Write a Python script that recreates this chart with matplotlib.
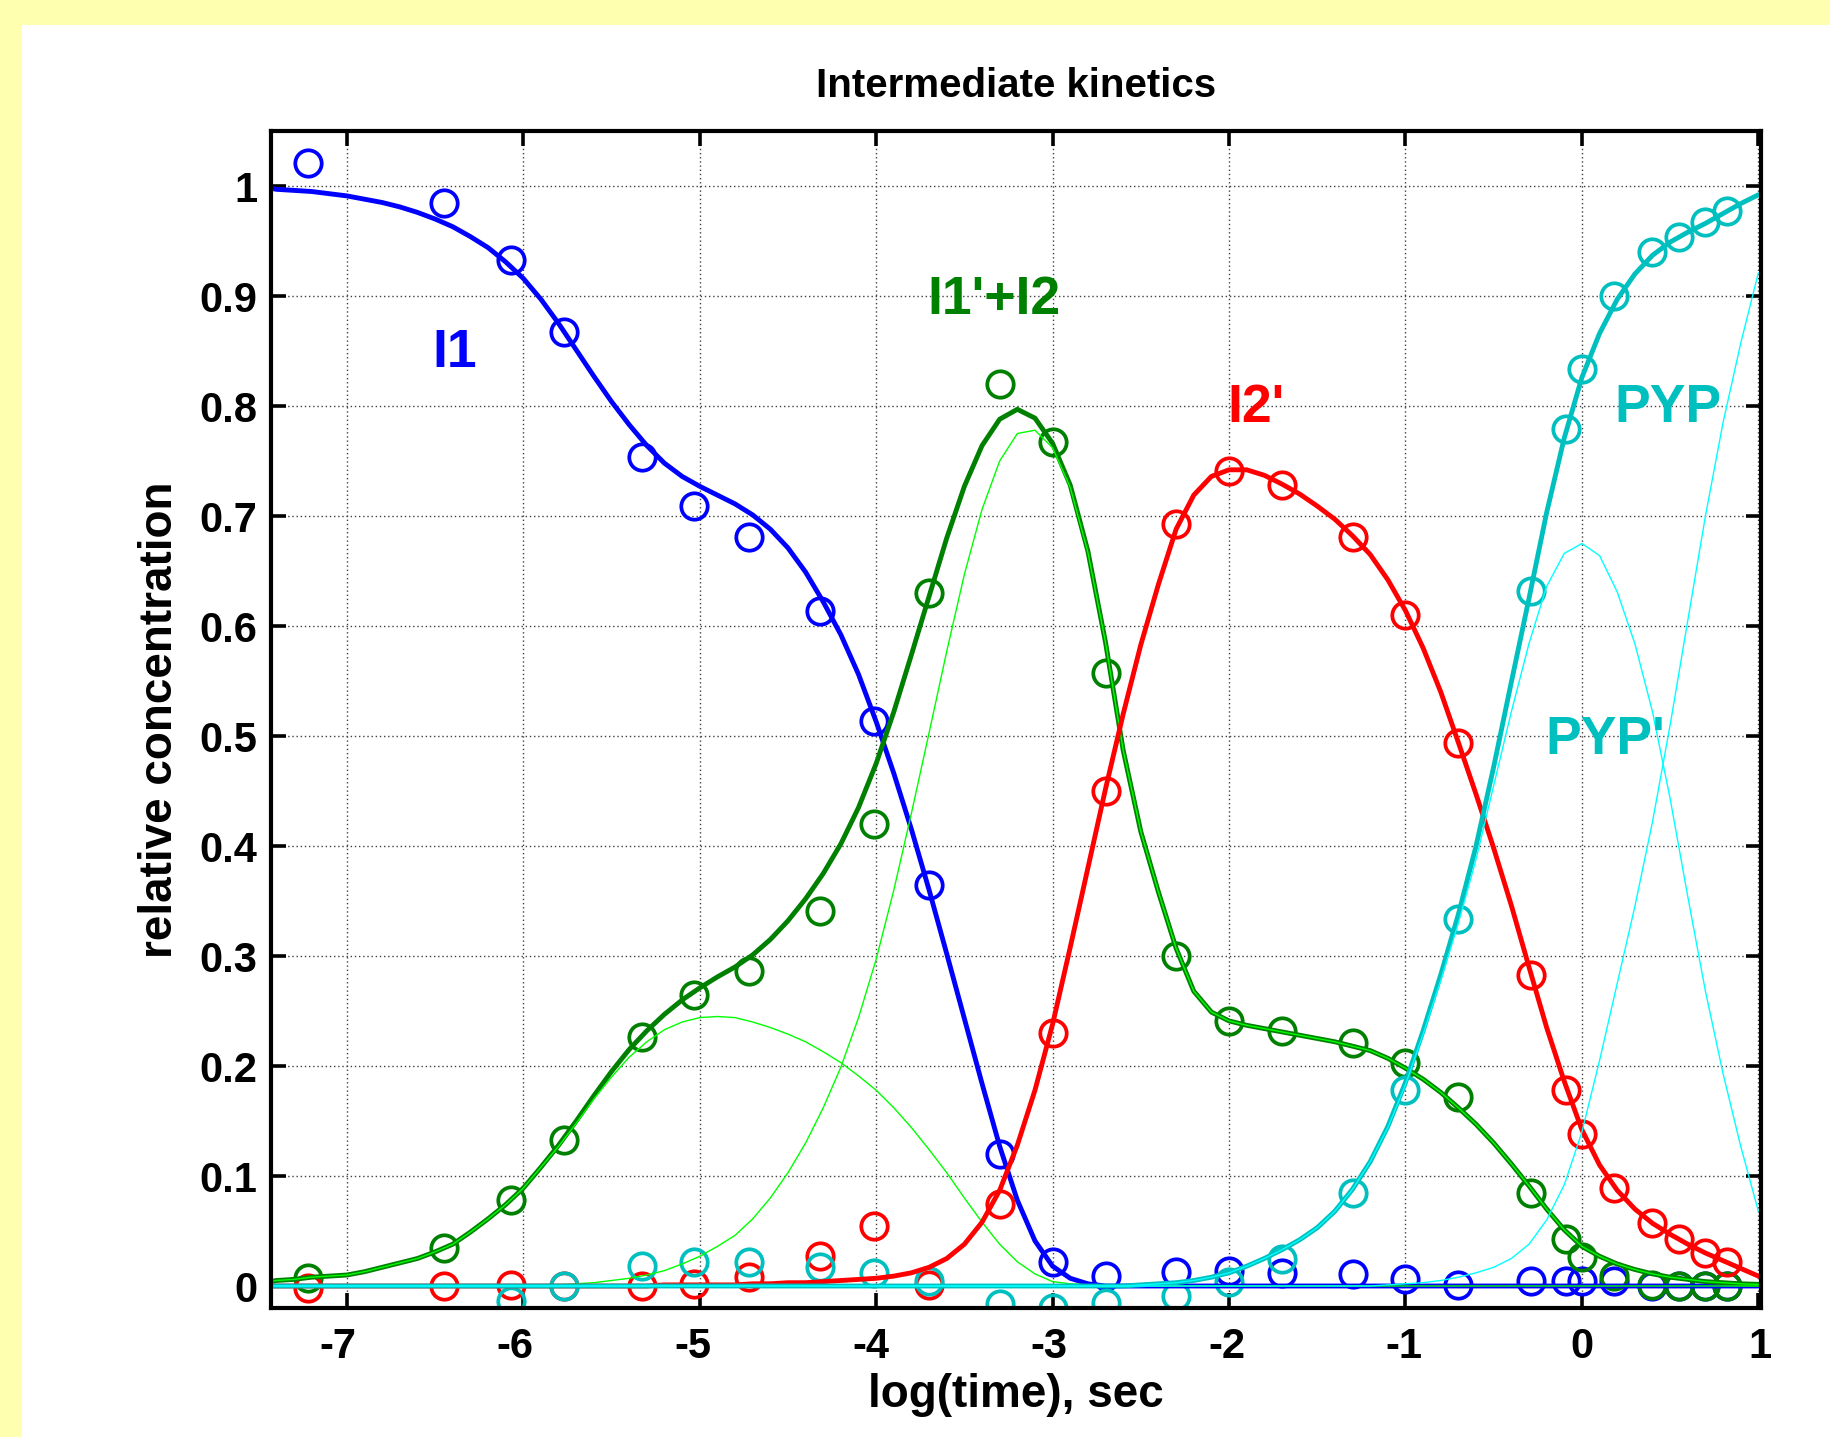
import numpy as np
import matplotlib
matplotlib.use("Agg")
import matplotlib.pyplot as plt
from matplotlib.patches import Rectangle
from matplotlib.transforms import ScaledTranslation

plt.rcParams["font.family"] = ["Liberation Sans", "DejaVu Sans"]
plt.rcParams["font.weight"] = "bold"

# ---------------- measured points (log10 time in s) ----------------
t_obs = [-7.22, -6.45, -6.07, -5.77, -5.33, -5.03, -4.72, -4.32, -4.01, -3.70,
         -3.30, -3.00, -2.70, -2.30, -2.00, -1.70, -1.30, -1.00, -0.70, -0.29,
         -0.09, 0.00, 0.18, 0.40, 0.55, 0.70, 0.82]

i1_obs = [1.021, 0.985, 0.933, 0.867, 0.754, 0.709, 0.681, 0.614, 0.514, 0.365,
          0.120, 0.022, 0.009, 0.013, 0.014, 0.012, 0.011, 0.006, 0.001, 0.005,
          0.005, 0.005, 0.005, 0.0, 0.0, 0.0, 0.0]

i1p_i2_obs = [0.007, 0.035, 0.078, 0.133, 0.226, 0.265, 0.286, 0.341, 0.420, 0.630,
              0.820, 0.767, 0.557, 0.300, 0.241, 0.232, 0.221, 0.203, 0.172, 0.085,
              0.043, 0.026, 0.009, 0.001, 0.0, 0.0, 0.0]

i2p_obs = [-0.002, 0.0, 0.001, 0.0, 0.0, 0.002, 0.008, 0.027, 0.055, 0.001,
           0.075, 0.230, 0.450, 0.693, 0.741, 0.728, 0.681, 0.610, 0.494, 0.283,
           0.178, 0.138, 0.089, 0.057, 0.043, 0.030, 0.022]

pyp_obs = [np.nan, np.nan, -0.014, 0.0, 0.018, 0.022, 0.022, 0.017, 0.012, 0.005,
           -0.016, -0.020, -0.015, -0.009, 0.004, 0.025, 0.085, 0.178, 0.334, 0.632,
           0.779, 0.834, 0.900, 0.940, 0.954, 0.967, 0.977]

# ---------------- fitted curves, sampled every 0.1 in log(time) ----------------
t_fit = [-7.43] + [round(-7.4 + 0.1 * k, 1) for k in range(85)]

Z10 = [0.0] * 10

i1_fit = ([0.998,
           0.997, 0.996, 0.995, 0.993, 0.991,
           0.988, 0.985, 0.981, 0.976, 0.970, 0.963, 0.954, 0.944, 0.931, 0.916,
           0.897, 0.875, 0.851, 0.827, 0.804, 0.783, 0.764, 0.748, 0.736, 0.727,
           0.719, 0.711, 0.701, 0.688, 0.671, 0.649, 0.622, 0.592, 0.556, 0.513,
           0.466, 0.415, 0.360, 0.302, 0.243, 0.184, 0.127, 0.078, 0.041, 0.018,
           0.007, 0.002, 0.0, 0.0, 0.0, 0.0, 0.0, 0.0, 0.0, 0.0]
          + Z10 + Z10 + Z10)

i1p_i2_fit = [0.004,
              0.005, 0.006, 0.008, 0.009, 0.010,
              0.013, 0.017, 0.021, 0.025, 0.031, 0.038, 0.049, 0.061, 0.074, 0.089,
              0.108, 0.128, 0.150, 0.173, 0.195, 0.215, 0.232, 0.247, 0.260, 0.271,
              0.281, 0.290, 0.301, 0.315, 0.332, 0.352, 0.375, 0.402, 0.435, 0.475,
              0.522, 0.574, 0.627, 0.680, 0.727, 0.764, 0.788, 0.797, 0.789, 0.766,
              0.728, 0.668, 0.585, 0.487, 0.413, 0.358, 0.307, 0.268, 0.249, 0.241,
              0.237, 0.234, 0.231, 0.228, 0.225, 0.222, 0.218, 0.214, 0.207, 0.198,
              0.188, 0.176, 0.162, 0.147, 0.130, 0.111, 0.091, 0.070, 0.051, 0.036,
              0.027, 0.020, 0.015, 0.011, 0.008, 0.006, 0.004, 0.003, 0.002, 0.0015]

i1p_part = ([0.004,
             0.005, 0.006, 0.008, 0.009, 0.010,
             0.013, 0.017, 0.021, 0.025, 0.031, 0.038, 0.049, 0.061, 0.074, 0.089,
             0.108, 0.127, 0.148, 0.170, 0.190, 0.208, 0.222, 0.233, 0.240, 0.244,
             0.245, 0.244, 0.240, 0.235, 0.229, 0.222, 0.213, 0.203, 0.191, 0.178,
             0.162, 0.144, 0.124, 0.103, 0.080, 0.058, 0.038, 0.022, 0.011, 0.004,
             0.002, 0.001, 0.0, 0.0, 0.0, 0.0, 0.0, 0.0, 0.0, 0.0]
            + Z10 + Z10 + Z10)

i2_part = ([0.0,
            0.0, 0.0, 0.0, 0.0, 0.0]
           + Z10 +
           [0.0, 0.001, 0.002, 0.003, 0.005, 0.007, 0.010, 0.014, 0.020, 0.027,
            0.036, 0.046, 0.061, 0.080, 0.103, 0.130, 0.162, 0.199, 0.244, 0.297,
            0.360, 0.430, 0.503, 0.577, 0.647, 0.706, 0.750, 0.775, 0.778, 0.762,
            0.726, 0.667, 0.585, 0.487, 0.413, 0.358, 0.307, 0.268, 0.249, 0.241,
            0.237, 0.234, 0.231, 0.228, 0.225, 0.222, 0.218, 0.214, 0.207, 0.198,
            0.188, 0.176, 0.162, 0.147, 0.130, 0.111, 0.091, 0.070, 0.051, 0.036,
            0.027, 0.020, 0.015, 0.011, 0.008, 0.006, 0.004, 0.003, 0.002, 0.0015])

i2p_fit = ([0.0,
            0.0, 0.0, 0.0, 0.0, 0.0]
           + Z10 +
           [0.0, 0.0, 0.0, 0.0, 0.0, 0.0, 0.0, 0.001, 0.001, 0.001,
            0.001, 0.001, 0.002, 0.002, 0.003, 0.003, 0.004, 0.005, 0.006, 0.007,
            0.009, 0.012, 0.017, 0.025, 0.038, 0.058, 0.087, 0.128, 0.178, 0.238,
            0.308, 0.380, 0.452, 0.520, 0.583, 0.638, 0.688, 0.719, 0.736, 0.742,
            0.742, 0.737, 0.729, 0.720, 0.709, 0.697, 0.682, 0.665, 0.642, 0.614,
            0.580, 0.540, 0.494, 0.447, 0.398, 0.346, 0.290, 0.235, 0.186, 0.142,
            0.110, 0.087, 0.070, 0.057, 0.047, 0.038, 0.030, 0.023, 0.016, 0.009])

pyp_fit = ([0.0,
            0.0, 0.0, 0.0, 0.0, 0.0]
           + Z10 + Z10 + Z10 + Z10 +
           [0.0, 0.0, 0.0, 0.0, 0.001, 0.002, 0.003, 0.005, 0.008, 0.012,
            0.018, 0.025, 0.033, 0.042, 0.053, 0.068, 0.088, 0.113, 0.145, 0.185,
            0.232, 0.283, 0.338, 0.400, 0.472, 0.549, 0.625, 0.703, 0.771, 0.826,
            0.866, 0.897, 0.920, 0.937, 0.949, 0.958, 0.966, 0.975, 0.984, 0.992])

pyp_prime_part = ([0.0,
                   0.0, 0.0, 0.0, 0.0, 0.0]
                  + Z10 + Z10 + Z10 + Z10 +
                  [0.0, 0.0, 0.0, 0.0, 0.001, 0.002, 0.003, 0.005, 0.008, 0.012,
                   0.018, 0.025, 0.033, 0.042, 0.053, 0.068, 0.088, 0.113, 0.144, 0.183,
                   0.229, 0.278, 0.330, 0.388, 0.455, 0.522, 0.584, 0.636, 0.666, 0.675,
                   0.664, 0.631, 0.584, 0.522, 0.443, 0.354, 0.268, 0.193, 0.127, 0.068])

pyp_part = ([0.0,
             0.0, 0.0, 0.0, 0.0, 0.0]
            + Z10 + Z10 + Z10 + Z10 + Z10 +
            [0.0, 0.0, 0.0, 0.0, 0.0, 0.0, 0.0, 0.0, 0.001, 0.002,
             0.003, 0.005, 0.008, 0.012, 0.017, 0.025, 0.038, 0.060, 0.092, 0.140,
             0.205, 0.275, 0.345, 0.422, 0.510, 0.605, 0.700, 0.785, 0.857, 0.921])

x_ticks = [-7, -6, -5, -4, -3, -2, -1, 0, 1]
y_ticks = [0.0, 0.1, 0.2, 0.3, 0.4, 0.5, 0.6, 0.7, 0.8, 0.9, 1.0]
y_tick_labels = ["0", "0.1", "0.2", "0.3", "0.4", "0.5", "0.6", "0.7", "0.8", "0.9", "1"]

BLUE = "#0000FF"
DGREEN = "#008000"
RED = "#FF0000"
CYAN = "#00BFBF"
LGREEN = "#00FF00"
LCYAN = "#00FFFF"

# ---------------- figure ----------------
W, H = 1831, 1437
fig = plt.figure(figsize=(W / 100, H / 100), dpi=100)
fig.patch.set_facecolor("#FFFFB0")
fig.add_artist(Rectangle((22 / W, 0), 1 - 22 / W, 1 - 25 / H,
                         transform=fig.transFigure, facecolor="white",
                         edgecolor="none", zorder=0))

ax = fig.add_axes([271 / W, 1 - 1308 / H, (1761 - 271) / W, (1308 - 131) / H])
ax.set_facecolor("white")

mk = dict(marker="o", linestyle="none", markersize=19, markeredgewidth=2.7,
          markerfacecolor="none")
ax.plot(t_obs, i1_obs, color=BLUE, **mk)
ax.plot(t_obs, i1p_i2_obs, color=DGREEN, **mk)
ax.plot(t_obs, i2p_obs, color=RED, **mk)
ax.plot(t_obs, pyp_obs, color=CYAN, **mk)

lw_thick = 3.5
lw_thin = 1.0
line = dict(solid_joinstyle="round", solid_capstyle="round")
ax.plot(t_fit, i1_fit, color=BLUE, lw=lw_thick, **line)
ax.plot(t_fit, i1p_i2_fit, color=DGREEN, lw=lw_thick, **line)
ax.plot(t_fit, i1p_part, color=LGREEN, lw=lw_thin, **line)
ax.plot(t_fit, i2_part, color=LGREEN, lw=lw_thin, **line)
ax.plot(t_fit, i2p_fit, color=RED, lw=lw_thick, **line)
ax.plot(t_fit, pyp_fit, color=CYAN, lw=lw_thick, **line)
ax.plot(t_fit, pyp_prime_part, color=LCYAN, lw=lw_thin, **line)
ax.plot(t_fit, pyp_part, color=LCYAN, lw=lw_thin, **line)

ax.set_xlim(-7.43, 1.015)
ax.set_ylim(-0.02, 1.05)
ax.set_xticks(x_ticks)
ax.set_xticklabels([str(v) for v in x_ticks])
ax.set_yticks(y_ticks)
ax.set_yticklabels(y_tick_labels)

ax.grid(True, linestyle=(0, (1, 2)), color="0.25", linewidth=1.0)
ax.set_axisbelow(True)
for s in ax.spines.values():
    s.set_linewidth(3.0)
ax.tick_params(direction="in", length=11, width=2.6, top=True, right=True,
               labelsize=30)
ax.tick_params(axis="x", pad=14)
ax.tick_params(axis="y", pad=10)

# the x tick labels sit on a slightly wider spacing than the ticks themselves
for lbl, v in zip(ax.get_xticklabels(), x_ticks):
    dx_pt = (0.1 + 1.36 * v) * 0.72
    lbl.set_transform(lbl.get_transform()
                      + ScaledTranslation(dx_pt / 72, 0, fig.dpi_scale_trans))

# series names
lab = dict(fontsize=38.5, fontweight="bold", ha="center", va="center")
ax.text(-6.39, 0.848, "I1", color=BLUE, **lab)
ax.text(-3.33, 0.896, "I1'+I2", color=DGREEN, **lab)
ax.text(-1.85, 0.798, "I2'", color=RED, **lab)
ax.text(0.49, 0.798, "PYP", color=CYAN, **lab)
ax.text(0.13, 0.496, "PYP'", color=CYAN, **lab)

fig.text(1016 / W, 1 - 86 / H, "Intermediate kinetics", fontsize=29,
         fontweight="bold", ha="center", va="center")
fig.text(1016 / W, 1 - 1395 / H, "log(time), sec", fontsize=33,
         fontweight="bold", ha="center", va="center")
fig.text(160 / W, 1 - 720 / H, "relative concentration", fontsize=33,
         fontweight="bold", ha="center", va="center", rotation=90)

fig.savefig("out.png", dpi=100, facecolor=fig.get_facecolor())
